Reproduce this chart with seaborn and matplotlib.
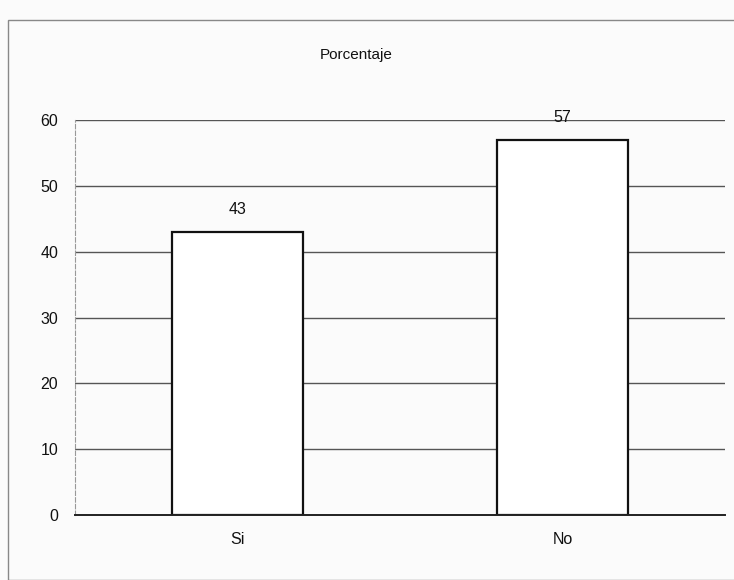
import matplotlib
matplotlib.use("Agg")
import matplotlib.pyplot as plt
import seaborn as sns
import pandas as pd
from matplotlib.patches import Rectangle

categories = ["Si", "No"]
values = [43, 57]
yticks = [0, 10, 20, 30, 40, 50, 60]

sns.set_theme(style="white")
plt.rcParams['font.family'] = ['Liberation Sans', 'DejaVu Sans']

fig = plt.figure(figsize=(7.34, 5.8), dpi=100, facecolor="#fbfbfb")
ax = fig.add_axes([0.102, 0.112, 0.886, 0.681])
ax.set_facecolor("#fbfbfb")

df = pd.DataFrame({"cat": categories, "val": values})
sns.barplot(data=df, x="cat", y="val", ax=ax, color="white", edgecolor="#111111",
            linewidth=1.6, width=0.405, saturation=1)

ax.set_ylim(0, 60)
ax.set_yticks(yticks)
ax.yaxis.grid(True, color="#555555", linewidth=1.0)
ax.set_axisbelow(True)
ax.set_xlabel("")
ax.set_ylabel("")
ax.tick_params(axis="both", labelsize=11.5, colors="#111111", length=0, pad=12)
for s in ["top", "right"]:
    ax.spines[s].set_visible(False)
ax.spines["left"].set_color("#999999")
ax.spines["left"].set_linewidth(0.8)
ax.spines["left"].set_linestyle((0, (4, 2)))
ax.spines["bottom"].set_color("#222222")
ax.spines["bottom"].set_linewidth(1.4)

for i, v in enumerate(values):
    ax.text(i, v + 2.2, f"{v}", ha="center", va="bottom", fontsize=11.5, color="#111111")

fig.text(0.485, 0.905, "Porcentaje", ha="center", va="center", fontsize=11, color="#111111")

fig.patches.append(Rectangle((0.011, 0.0), 1.0, 0.965, transform=fig.transFigure,
                             fill=False, edgecolor="#888888", linewidth=1.0))

fig.savefig("out.png", dpi=100, facecolor=fig.get_facecolor())
